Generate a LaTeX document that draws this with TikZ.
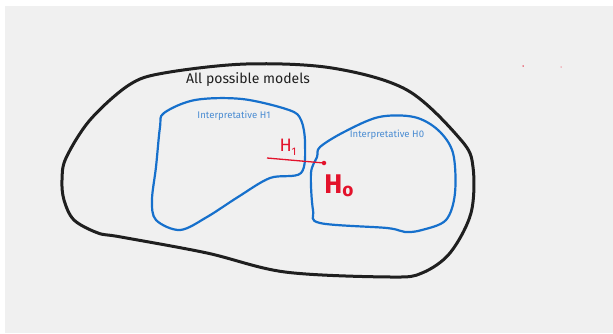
\documentclass[tikz,border=0pt]{standalone}
\usepackage{fontspec}
\setmainfont{Fira Sans}
\begin{document}
\begin{tikzpicture}[x=1pt,y=-1pt,
  outer/.style={draw=black!88, line width=3pt, line join=round},
  blob/.style={draw=blueline, line width=2.2pt, line join=round},
  lbl/.style={text=bluetext, font=\fontsize{9.6}{11}\selectfont, inner sep=0pt},
  redtxt/.style={text=redink, inner sep=0pt}]
\definecolor{bg}{HTML}{F0F0F0}
\definecolor{blueline}{HTML}{1670CC}
\definecolor{bluetext}{HTML}{4A8CD2}
\definecolor{redink}{HTML}{E3122B}
\useasboundingbox (0,0) rectangle (613,333);
\fill[white] (0,0) rectangle (613,333);
\fill[bg] (5,6) rectangle (613,333);
% outer region
\draw[outer] plot[smooth cycle, tension=0.55] coordinates {
 (62,180) (66,158) (90,120) (129,85) (164,73) (246,64) (332,68) (407,90)
 (461,140) (473,167) (471,213) (450,253) (422,273) (391,277) (285,272)
 (207,253) (121,237) (98,233) (74,220) (64,200)};
% H1 region
\draw[blob] plot[smooth cycle, tension=0.55] coordinates {
 (164,113) (195,100) (242,99) (289,110) (301,120) (305,143) (301,173)
 (270,178) (238,197) (207,217) (180,230) (156,220) (152,200) (156,167) (160,127)};
% H0 region
\draw[blob] plot[smooth cycle, tension=0.55] coordinates {
 (320,147) (344,132) (379,117) (414,117) (438,130) (453,153) (455,193)
 (446,220) (422,230) (405,232) (387,228) (320,223) (313,210) (311,173) (317,157)};
\node[inner sep=0pt, text=black!88, font=\fontsize{14}{16}\selectfont] (all) at (248,80) {All possible models};
\node[lbl] (i1) at (234,116) {Interpretative H1};
\node[lbl] (i0) at (387,135) {Interpretative H0};
\node[redtxt, font=\fontsize{18}{20}\selectfont] (h1) at (288,147) {H\raisebox{-0.4ex}{\fontsize{11}{12}\selectfont 1}};
\node[redtxt, font=\fontsize{27}{30}\selectfont\bfseries] (h0) at (339,186) {H\raisebox{-0.25ex}{\fontsize{19}{20}\selectfont o}};
\coordinate (ls) at (267,158);
\node[circle, fill=redink, inner sep=0pt, minimum size=4.5pt] (dot) at (324,163) {};
\draw[redink, line width=1.3pt] (ls) -- (dot.center);
\node[circle, fill=redink, inner sep=0pt, minimum size=1.5pt] (r1) at (523,66) {};
\node[circle, fill=redink!50, inner sep=0pt, minimum size=1.5pt] (r2) at (561,67) {};
\end{tikzpicture}
\end{document}
